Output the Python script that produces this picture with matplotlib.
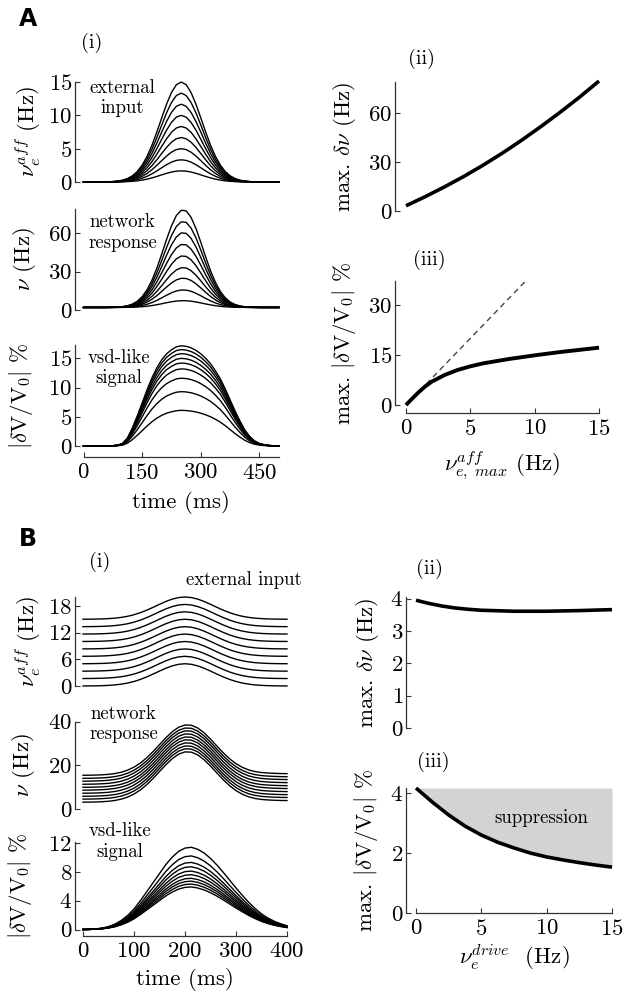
import matplotlib
matplotlib.use('Agg')
import matplotlib.pyplot as plt
import numpy as np

plt.rcParams['font.family'] = 'cmr10'
plt.rcParams['mathtext.fontset'] = 'cm'
plt.rcParams['axes.formatter.use_mathtext'] = True
plt.rcParams['axes.unicode_minus'] = False

# --- data ---
# A: time courses (t = 0..500 ms, 12.5 ms samples), normalised shapes
A_T = np.linspace(0, 500, 41)
A_IN_PROFILE = [0, 0, 0, 0.0003, 0.0008, 0.0019, 0.0043, 0.0091, 0.018, 0.035,
                0.062, 0.105, 0.169, 0.256, 0.367, 0.499, 0.641, 0.779, 0.895, 0.973,
                1.0, 0.973, 0.895, 0.779, 0.641, 0.499, 0.367, 0.256, 0.169, 0.105,
                0.062, 0.035, 0.018, 0.0091, 0.0043, 0.0019, 0.0008, 0.0003, 0, 0, 0]
A_NET_PROFILE = [0, 0, 0, 0, 0, 0.0006, 0.0015, 0.0037, 0.0082, 0.017,
                 0.034, 0.063, 0.110, 0.181, 0.278, 0.402, 0.546, 0.697, 0.835, 0.941,
                 0.995, 0.989, 0.923, 0.810, 0.667, 0.516, 0.375, 0.256, 0.164, 0.099,
                 0.056, 0.030, 0.015, 0.007, 0.003, 0.0013, 0.0005, 0, 0, 0, 0]
A_VSD_PROFILE = [0, 0, 0, 0, 0, 0.001, 0.003, 0.008, 0.025, 0.08,
                 0.18, 0.30, 0.43, 0.56, 0.68, 0.78, 0.86, 0.92, 0.96, 0.99,
                 1.0, 0.995, 0.98, 0.955, 0.92, 0.875, 0.82, 0.75, 0.67, 0.57,
                 0.46, 0.35, 0.25, 0.16, 0.095, 0.05, 0.025, 0.012, 0.005, 0.002, 0]
A_IN_PEAKS = [1.67, 3.33, 5.0, 6.67, 8.33, 10.0, 11.67, 13.33, 15.0]
A_NET_BASE = 2.0
A_NET_PEAKS = [7.3, 15.7, 24.9, 33.2, 42.4, 51.5, 60.6, 69.3, 78.4]
A_VSD_PEAKS = [6.1, 9.3, 11.6, 13.2, 14.2, 15.0, 15.8, 16.5, 17.15]

# A(ii), A(iii)
A2_X = [0, 1.5, 3, 4.5, 6, 7.5, 9, 10.5, 12, 13.5, 15]
A2_Y = [3.2, 8.8, 14.8, 21.2, 28.1, 35.5, 43.4, 51.8, 60.6, 69.8, 79.6]
A3_X = [0, 0.5, 1, 1.5, 2, 3, 4, 5, 6, 8, 10, 12, 15]
A3_Y = [0, 2.0, 3.9, 5.6, 7.0, 9.0, 10.5, 11.6, 12.5, 13.8, 14.9, 15.9, 17.2]
A3_LIN_X = [0, 9.3]
A3_LIN_Y = [0, 37.2]

# B: time courses (t = 0..400 ms, 12.5 ms samples)
B_T = np.linspace(0, 400, 33)
B_IN_PROFILE = [0.0017, 0.0037, 0.0076, 0.015, 0.028, 0.049, 0.083, 0.133, 0.203, 0.295,
                0.408, 0.536, 0.671, 0.799, 0.905, 0.975, 1.0, 0.975, 0.905, 0.799,
                0.671, 0.536, 0.408, 0.295, 0.203, 0.133, 0.083, 0.049, 0.028, 0.015,
                0.0076, 0.0037, 0.0017]
B_NET_PROFILE = [0.001, 0.002, 0.005, 0.010, 0.019, 0.035, 0.061, 0.102, 0.162, 0.243,
                 0.347, 0.471, 0.607, 0.742, 0.862, 0.951, 0.996, 0.991, 0.936, 0.840,
                 0.716, 0.579, 0.445, 0.327, 0.23, 0.157, 0.106, 0.074, 0.055, 0.045,
                 0.039, 0.035, 0.033]
B_VSD_PROFILE = [0, 0.002, 0.007, 0.017, 0.035, 0.065, 0.11, 0.17, 0.25, 0.35,
                 0.46, 0.57, 0.68, 0.79, 0.88, 0.95, 0.99, 1.0, 0.975, 0.93,
                 0.865, 0.785, 0.695, 0.6, 0.505, 0.415, 0.33, 0.255, 0.19, 0.14,
                 0.1, 0.07, 0.045]
B_IN_BASES = [0, 1.67, 3.33, 5.0, 6.67, 8.33, 10.0, 11.67, 13.33, 15.0]
B_IN_BUMP = 5.0
B_NET_BASES = [3.1, 4.5, 5.8, 7.2, 8.6, 9.9, 11.3, 12.7, 14.0, 15.4]
B_NET_BUMP = 23.1
B_VSD_PEAKS = [5.9, 6.3, 6.7, 7.1, 7.6, 8.1, 8.7, 9.3, 10.2, 11.4]

# B(ii), B(iii)
B2_X = [0, 1, 2, 3, 4, 5, 7.5, 10, 12.5, 15]
B2_Y = [3.95, 3.85, 3.77, 3.71, 3.67, 3.64, 3.61, 3.61, 3.63, 3.66]
B3_X = [0, 1.25, 2.5, 3.75, 5, 6.25, 7.5, 8.75, 10, 11.25, 12.5, 13.75, 15]
B3_Y = [4.17, 3.7, 3.27, 2.9, 2.6, 2.36, 2.17, 2.0, 1.87, 1.77, 1.68, 1.6, 1.53]
SUPPRESSION_TOP = 4.17

W, H = 626, 996
FS = 16.5
TXT = 13.5
SPINE = '#333333'

fig = plt.figure(figsize=(W / 100, H / 100), dpi=100)


def add_ax(left, top, right, bottom):
    # pixel box -> figure fraction
    return fig.add_axes([left / W, 1 - bottom / H, (right - left) / W, (bottom - top) / H])


def style(ax, yticks, left_out, xticks=None, bottom_out=0):
    ax.patch.set_alpha(0)
    for s in ['top', 'right']:
        ax.spines[s].set_visible(False)
    ax.spines['left'].set_position(('outward', left_out))
    ax.spines['left'].set_color(SPINE)
    ax.spines['left'].set_linewidth(0.9)
    ax.set_yticks(yticks)
    ax.tick_params(axis='y', direction='in', length=3.5, width=0.8, pad=2,
                   labelsize=FS, color=SPINE)
    if xticks is None:
        ax.spines['bottom'].set_visible(False)
        ax.set_xticks([])
    else:
        ax.spines['bottom'].set_position(('outward', bottom_out))
        ax.spines['bottom'].set_color(SPINE)
        ax.spines['bottom'].set_linewidth(0.9)
        ax.set_xticks(xticks)
        ax.tick_params(axis='x', direction='in', length=3.5, width=0.8, pad=4,
                       labelsize=FS, color=SPINE)


def ylab(ax, text, x):
    ax.set_ylabel(text, fontsize=FS)
    ax.yaxis.set_label_coords(x, 0.5)


def xlab(ax, text, y):
    ax.set_xlabel(text, fontsize=FS)
    ax.xaxis.set_label_coords(0.5, y)


VSD_LABEL = r'$|\delta \mathrm{V}/\mathrm{V}_0|$ %'

# ---------------- A(i) ----------------
ax = add_ax(83.5, 82, 279, 182)
for pk in A_IN_PEAKS:
    ax.plot(A_T, pk * np.array(A_IN_PROFILE), color='k', lw=1.0, clip_on=False)
ax.set_xlim(0, 500)
ax.set_ylim(0, 15)
style(ax, [0, 5, 10, 15], 6.1)
ylab(ax, r'$\nu_e^{aff}$ (Hz)', -0.207)
ax.text(0.2, 0.84, 'external\ninput', transform=ax.transAxes, ha='center', va='center',
        fontsize=TXT, linespacing=1.2)

ax = add_ax(83.5, 209, 279, 310)
for pk in A_NET_PEAKS:
    ax.plot(A_T, A_NET_BASE + (pk - A_NET_BASE) * np.array(A_NET_PROFILE), color='k',
            lw=1.0, clip_on=False)
ax.set_xlim(0, 500)
ax.set_ylim(0, 79)
style(ax, [0, 30, 60], 6.1)
ylab(ax, r'$\nu$ (Hz)', -0.233)
ax.text(0.2, 0.77, 'network\nresponse', transform=ax.transAxes, ha='center', va='center',
        fontsize=TXT, linespacing=1.2)

ax = add_ax(83.5, 345.5, 279, 446)
for pk in A_VSD_PEAKS:
    ax.plot(A_T, pk * np.array(A_VSD_PROFILE), color='k', lw=1.0, clip_on=False)
ax.set_xlim(0, 500)
ax.set_ylim(0, 17.2)
style(ax, [0, 5, 10, 15], 6.1, xticks=[0, 150, 300, 450], bottom_out=7.9)
ylab(ax, VSD_LABEL, -0.248)
xlab(ax, 'time (ms)', -0.45)
ax.text(0.18, 0.775, 'vsd-like\nsignal', transform=ax.transAxes, ha='center', va='center',
        fontsize=TXT, linespacing=1.2)

# ---------------- A(ii), A(iii) ----------------
ax = add_ax(406, 82, 599, 211)
ax.plot(A2_X, A2_Y, color='k', lw=2.6, clip_on=False, solid_capstyle='butt')
ax.set_xlim(0, 15)
ax.set_ylim(0, 79)
style(ax, [0, 30, 60], 7.9)
ylab(ax, r'max. $\delta\nu$ (Hz)', -0.249)

ax = add_ax(406, 281, 599, 405)
ax.plot(A3_LIN_X, A3_LIN_Y, color='#444444', lw=1.0, ls=(0, (4, 3)), clip_on=False)
ax.plot(A3_X, A3_Y, color='k', lw=2.8, clip_on=False, solid_capstyle='butt')
ax.set_xlim(0, 15)
ax.set_ylim(0, 37.2)
style(ax, [0, 15, 30], 7.9, xticks=[0, 5, 10, 15], bottom_out=5.8)
ylab(ax, 'max. ' + VSD_LABEL, -0.249)
xlab(ax, r'$\nu_{e,\ max}^{aff}$ (Hz)', -0.363)

# ---------------- B(i) ----------------
ax = add_ax(83, 597, 287, 686)
for base in B_IN_BASES:
    ax.plot(B_T, base + B_IN_BUMP * np.array(B_IN_PROFILE), color='k', lw=1.0, clip_on=False)
ax.set_xlim(0, 400)
ax.set_ylim(0, 20)
style(ax, [0, 6, 12, 18], 5.8)
ylab(ax, r'$\nu_e^{aff}$ (Hz)', -0.196)
ax.text(0.79, 1.19, 'external input', transform=ax.transAxes, ha='center', va='center',
        fontsize=TXT)

ax = add_ax(83, 721.5, 287, 809)
for base in B_NET_BASES:
    ax.plot(B_T, base + B_NET_BUMP * np.array(B_NET_PROFILE), color='k', lw=1.0, clip_on=False)
ax.set_xlim(0, 400)
ax.set_ylim(0, 40)
style(ax, [0, 20, 40], 5.8)
ylab(ax, r'$\nu$ (Hz)', -0.225)
ax.text(0.2, 0.97, 'network\nresponse', transform=ax.transAxes, ha='center', va='center',
        fontsize=TXT, linespacing=1.2)

ax = add_ax(83, 841.5, 287, 929.5)
for pk in B_VSD_PEAKS:
    ax.plot(B_T, pk * np.array(B_VSD_PROFILE), color='k', lw=1.0, clip_on=False)
ax.set_xlim(0, 400)
ax.set_ylim(0, 12.2)
style(ax, [0, 4, 8, 12], 5.8, xticks=[0, 100, 200, 300, 400], bottom_out=4.7)
ylab(ax, VSD_LABEL, -0.24)
xlab(ax, 'time (ms)', -0.4375)
ax.text(0.18, 1.0, 'vsd-like\nsignal', transform=ax.transAxes, ha='center', va='center',
        fontsize=TXT, linespacing=1.2)

# ---------------- B(ii), B(iii) ----------------
ax = add_ax(416, 597, 612, 728)
ax.plot(B2_X, B2_Y, color='k', lw=2.6, clip_on=False, solid_capstyle='butt')
ax.set_xlim(0, 15)
ax.set_ylim(0, 4.05)
style(ax, [0, 1, 2, 3, 4], 7.2)
ylab(ax, r'max. $\delta\nu$ (Hz)', -0.179)

ax = add_ax(416, 788, 612, 913)
ax.fill_between(B3_X, B3_Y, SUPPRESSION_TOP, color='#d3d3d3', lw=0)
ax.plot(B3_X, B3_Y, color='k', lw=2.6, clip_on=False, solid_capstyle='butt')
ax.set_xlim(0, 15)
ax.set_ylim(0, SUPPRESSION_TOP)
style(ax, [0, 2, 4], 7.2, xticks=[0, 5, 10, 15], bottom_out=0)
ylab(ax, 'max. ' + VSD_LABEL, -0.184)
xlab(ax, r'$\nu_e^{drive}$  (Hz)', -0.232)
ax.text(0.64, 0.76, 'suppression', transform=ax.transAxes, ha='center', va='center',
        fontsize=TXT)

# panel letters and sub-labels
for s, x, y in [('A', 28, 19), ('B', 28, 539)]:
    fig.text(x / W, 1 - y / H, s, fontsize=17, fontweight='bold', family='DejaVu Sans',
             ha='center', va='center')
for s, x, y in [('(i)', 92, 43), ('(ii)', 421, 59), ('(iii)', 429, 260),
                ('(i)', 100, 562), ('(ii)', 430, 569), ('(iii)', 433, 762)]:
    fig.text(x / W, 1 - y / H, s, fontsize=14.5, ha='center', va='center')

fig.savefig('out.png', dpi=100, facecolor='white')
